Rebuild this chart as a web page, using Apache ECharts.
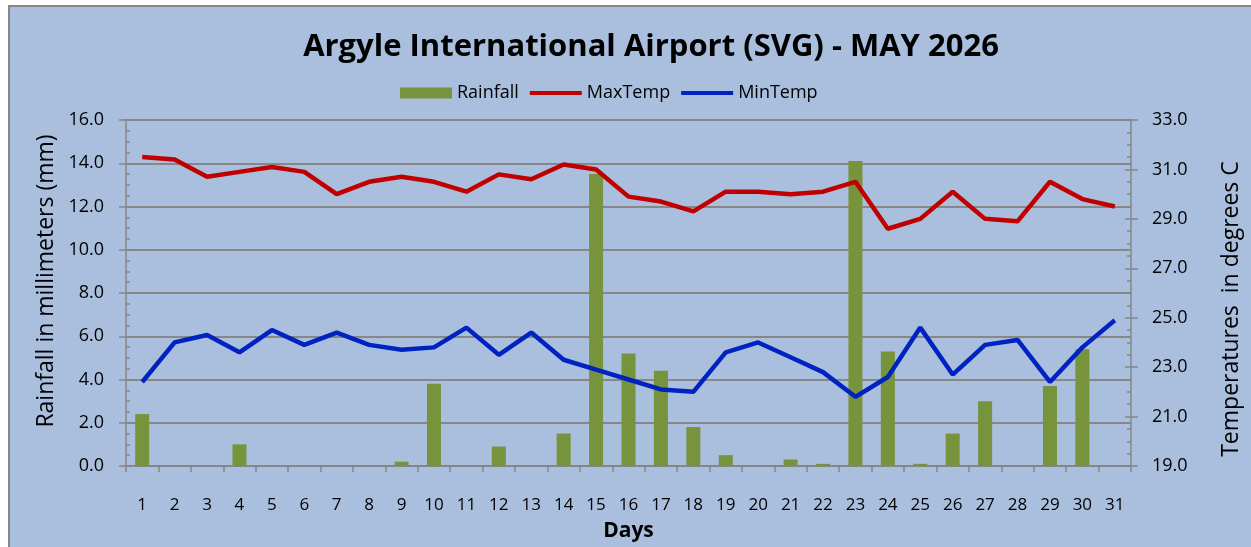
<!DOCTYPE html>
<html>
<head>
<meta charset="utf-8">
<title>Argyle International Airport (SVG) - MAY 2026</title>
<script src="https://cdn.jsdelivr.net/npm/echarts@6/dist/echarts.min.js"></script>
<style>
  html, body { margin: 0; padding: 0; background: #ffffff; overflow: hidden; }
  #frame {
    position: absolute; left: 8px; top: 5px; width: 1260px; height: 560px;
    border-left: 2px solid #878787; border-top: 2px solid #878787;
    background: #a9bfdd;
  }
  #chart { position: absolute; left: 0; top: 0; width: 1251px; height: 547px; }
</style>
</head>
<body>
<div id="frame"></div>
<div id="chart"></div>
<script>
// 数据
const days = ['1', '2', '3', '4', '5', '6', '7', '8', '9', '10', '11', '12', '13', '14', '15', '16',
  '17', '18', '19', '20', '21', '22', '23', '24', '25', '26', '27', '28', '29', '30', '31']
const rainfall = [2.4, 0, 0, 1.0, 0, 0, 0, 0, 0.2, 3.8, 0, 0.9, 0, 1.5, 13.5, 5.2,
  4.4, 1.8, 0.5, 0, 0.3, 0.1, 14.1, 5.3, 0.1, 1.5, 3.0, 0, 3.7, 5.4, 0]
const maxTemp = [31.5, 31.4, 30.7, 30.9, 31.1, 30.9, 30.0, 30.5, 30.7, 30.5, 30.1, 30.8, 30.6, 31.2, 31.0, 29.9,
  29.7, 29.3, 30.1, 30.1, 30.0, 30.1, 30.5, 28.6, 29.0, 30.1, 29.0, 28.9, 30.5, 29.8, 29.5]
const minTemp = [22.4, 24.0, 24.3, 23.6, 24.5, 23.9, 24.4, 23.9, 23.7, 23.8, 24.6, 23.5, 24.4, 23.3, 22.9, 22.5,
  22.1, 22.0, 23.6, 24.0, 23.4, 22.8, 21.8, 22.6, 24.6, 22.7, 23.9, 24.1, 22.4, 23.8, 24.9]

const font = 'Open Sans'
const axisGray = '#878787'

const chart = echarts.init(document.getElementById('chart'))

// 左右两根轴各叠一根只画内侧刻度的轴，做出十字刻度
function tickAxis(position, min, max, interval) {
  return {
    type: 'value',
    position: position,
    min: min,
    max: max,
    interval: interval,
    axisLine: { show: false },
    axisLabel: { show: false },
    splitLine: { show: false },
    axisTick: { show: true, inside: true, length: 6, lineStyle: { color: axisGray, width: 1.5 } },
    minorTick: { show: true, splitNumber: 4, length: 4, lineStyle: { color: axisGray, width: 1.5 } }
  }
}

const option = {
  backgroundColor: 'transparent',
  animation: false,
  textStyle: { fontFamily: font },
  title: {
    text: 'Argyle International Airport (SVG) - MAY 2026',
    left: 646,
    top: 27,
    textAlign: 'center',
    textStyle: { fontFamily: font, fontSize: 31, fontWeight: 'bold', color: '#000' }
  },
  legend: {
    top: 79,
    left: 395,
    itemGap: 11,
    itemWidth: 52,
    itemHeight: 11,
    textStyle: { fontFamily: font, fontSize: 18, color: '#000' },
    data: [
      { name: 'Rainfall', icon: 'rect' },
      { name: 'MaxTemp', icon: 'path://M0,0 L50,0 L50,4 L0,4 Z' },
      { name: 'MinTemp', icon: 'path://M0,0 L50,0 L50,4 L0,4 Z' }
    ]
  },
  grid: { left: 126, right: 120, top: 120, bottom: 81 },
  xAxis: {
    type: 'category',
    data: days,
    name: 'Days',
    nameLocation: 'middle',
    nameGap: 55,
    nameTextStyle: { fontFamily: font, fontSize: 21, fontWeight: 'bold', color: '#000' },
    axisLine: { lineStyle: { color: axisGray, width: 1.5 } },
    axisTick: { show: true, length: 6, alignWithLabel: false, lineStyle: { color: axisGray, width: 1.5 } },
    axisLabel: { fontFamily: font, fontSize: 17, color: '#000', margin: 31 },
    splitLine: { show: false }
  },
  yAxis: [
    {
      type: 'value',
      position: 'left',
      min: 0,
      max: 16,
      interval: 2,
      name: 'Rainfall in millimeters (mm)',
      nameLocation: 'middle',
      nameGap: 68,
      nameTextStyle: { fontFamily: font, fontSize: 23, color: '#000', padding: [0, 0, 0, 24] },
      axisLine: { show: true, lineStyle: { color: axisGray, width: 1.5 } },
      axisTick: { show: true, length: 7, lineStyle: { color: axisGray, width: 1.5 } },
      axisLabel: { fontFamily: font, fontSize: 18, color: '#000', margin: 22, formatter: v => v.toFixed(1) },
      splitLine: { show: true, lineStyle: { color: axisGray, width: 2 } }
    },
    {
      type: 'value',
      position: 'right',
      min: 19,
      max: 33,
      interval: 2,
      name: 'Temperatures  in degrees C',
      nameLocation: 'middle',
      nameGap: 89,
      nameRotate: 90,
      nameTextStyle: { fontFamily: font, fontSize: 23, color: '#000', padding: [0, 32, 0, 0] },
      axisLine: { show: true, lineStyle: { color: axisGray, width: 1.5 } },
      axisTick: { show: true, length: 7, lineStyle: { color: axisGray, width: 1.5 } },
      axisLabel: { fontFamily: font, fontSize: 18, color: '#000', margin: 21, formatter: v => v.toFixed(1) },
      splitLine: { show: false }
    },
    tickAxis('left', 0, 16, 2),
    tickAxis('right', 19, 33, 2)
  ],
  series: [
    {
      name: 'Rainfall',
      type: 'bar',
      yAxisIndex: 0,
      barWidth: 14,
      itemStyle: { color: '#77933c' },
      data: rainfall
    },
    {
      name: 'MaxTemp',
      type: 'line',
      yAxisIndex: 1,
      showSymbol: false,
      symbol: 'none',
      lineStyle: { color: '#c00000', width: 4.5 },
      itemStyle: { color: '#c00000' },
      data: maxTemp
    },
    {
      name: 'MinTemp',
      type: 'line',
      yAxisIndex: 1,
      showSymbol: false,
      symbol: 'none',
      lineStyle: { color: '#0022c0', width: 4.5 },
      itemStyle: { color: '#0022c0' },
      data: minTemp
    }
  ]
}

chart.setOption(option)
</script>
</body>
</html>
